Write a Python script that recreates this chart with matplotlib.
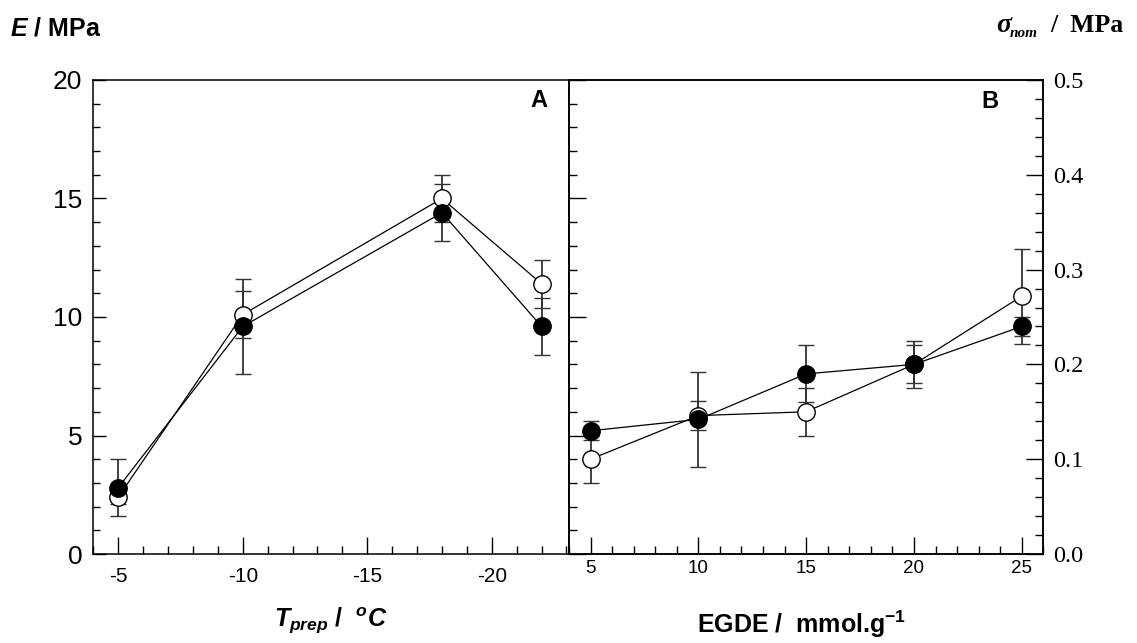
import matplotlib.pyplot as plt
from matplotlib.ticker import MultipleLocator, FormatStrFormatter

plt.rcParams['font.family'] = 'Liberation Sans'
plt.rcParams['axes.unicode_minus'] = False
plt.rcParams['mathtext.fontset'] = 'custom'
plt.rcParams['mathtext.it'] = 'Liberation Sans:italic:bold'
plt.rcParams['mathtext.rm'] = 'Liberation Sans:bold'
plt.rcParams['mathtext.bf'] = 'Liberation Sans:bold'

# panel A: modulus vs preparation temperature
t_prep = [-5, -10, -18, -22]
e_open = [2.4, 10.1, 15.0, 11.4]
e_open_err = [0.3, 1.0, 1.0, 1.0]
e_filled = [2.8, 9.6, 14.4, 9.6]
e_filled_err = [1.2, 2.0, 1.2, 1.2]

# panel B: nominal stress vs EGDE content
egde = [5, 10, 15, 20, 25]
s_open = [0.100, 0.146, 0.150, 0.200, 0.272]
s_open_err = [0.025, 0.015, 0.025, 0.025, 0.050]
s_filled = [0.130, 0.142, 0.190, 0.200, 0.240]
s_filled_err = [0.010, 0.050, 0.030, 0.020, 0.010]


def draw(ax, x, y, err, face):
    ax.errorbar(x, y, yerr=err, fmt='-o', color='black', mfc=face, mec='black',
                ms=12.5, mew=1.0, lw=0.9, ecolor='#333333', elinewidth=1.3,
                capsize=5.5, capthick=1.3)


fig = plt.figure(figsize=(11.37, 6.43), dpi=100)
axA = fig.add_axes([0.0821, 0.1384, 0.4183, 0.7372])
axB = fig.add_axes([0.5004, 0.1384, 0.4172, 0.7372])
axS = axB.twinx()

for ax in (axA, axB, axS):
    for sp in ax.spines.values():
        sp.set_linewidth(1.1)

# --- A ---
draw(axA, t_prep, e_open, e_open_err, 'white')
draw(axA, t_prep, e_filled, e_filled_err, 'black')
axA.set_xlim(-4, -23.1)
axA.set_ylim(0, 20)
axA.set_xticks([-5, -10, -15, -20])
axA.xaxis.set_minor_locator(MultipleLocator(1))
axA.yaxis.set_major_locator(MultipleLocator(5))
axA.yaxis.set_minor_locator(MultipleLocator(1))
axA.tick_params(which='both', direction='in', top=False, right=False, width=1.0)
axA.tick_params(axis='x', which='major', length=12, labelsize=15, pad=9)
axA.tick_params(axis='x', which='minor', length=6)
axA.tick_params(axis='y', which='major', length=9, labelsize=19, pad=8)
axA.tick_params(axis='y', which='minor', length=5)
axA.text(0.937, 0.956, 'A', transform=axA.transAxes, ha='center', va='center',
         fontsize=17, fontweight='bold')

# --- B ---
axB.set_xlim(4, 26)
axB.set_ylim(0, 20)
axB.xaxis.set_major_locator(MultipleLocator(5))
axB.xaxis.set_minor_locator(MultipleLocator(1))
axB.yaxis.set_major_locator(MultipleLocator(5))
axB.yaxis.set_minor_locator(MultipleLocator(1))
axB.tick_params(which='both', direction='in', top=False, right=False, width=1.0)
axB.tick_params(axis='y', labelleft=False)
axB.tick_params(axis='both', which='major', length=12)
axB.tick_params(axis='both', which='minor', length=6)
axB.tick_params(axis='x', labelsize=13.5, pad=4)

draw(axS, egde, s_open, s_open_err, 'white')
draw(axS, egde, s_filled, s_filled_err, 'black')
axS.set_ylim(0, 0.5)
axS.yaxis.set_major_locator(MultipleLocator(0.1))
axS.yaxis.set_minor_locator(MultipleLocator(0.02))
axS.yaxis.set_major_formatter(FormatStrFormatter('%.1f'))
axS.tick_params(which='both', direction='in', width=1.0)
axS.tick_params(which='major', length=12, labelsize=17.5, pad=7)
axS.tick_params(which='minor', length=6)
for lab in axS.get_yticklabels():
    lab.set_family('Liberation Serif')
axS.text(0.888, 0.954, 'B', transform=axS.transAxes, ha='center', va='center',
         fontsize=17, fontweight='bold')

# axis titles
fig.text(10 / 1137, 1 - 35 / 643, r'$E$ / MPa', fontsize=18, fontweight='bold',
         ha='left', va='baseline')
fig.text(996 / 1137, 1 - 32 / 643, 'σ', family='Liberation Serif', fontsize=20,
         fontweight='bold', style='italic', ha='left', va='baseline')
fig.text(1010 / 1137, 1 - 37 / 643, 'nom', family='Liberation Serif', fontsize=11,
         fontweight='bold', style='italic', ha='left', va='baseline')
fig.text(1124 / 1137, 1 - 32 / 643, '/  MPa', family='Liberation Serif', fontsize=18.5,
         fontweight='bold', ha='right', va='baseline')

fig.text(331 / 1137, 1 - 627 / 643, r'$T_{prep}$ /  $^{o}C$', fontsize=18,
         fontweight='bold', ha='center', va='baseline')
fig.text(802 / 1137, 1 - 633 / 643, r'EGDE /  mmol.g$^{\mathrm{-1}}$', fontsize=18,
         fontweight='bold', ha='center', va='baseline')

fig.savefig('out.png', dpi=100)
